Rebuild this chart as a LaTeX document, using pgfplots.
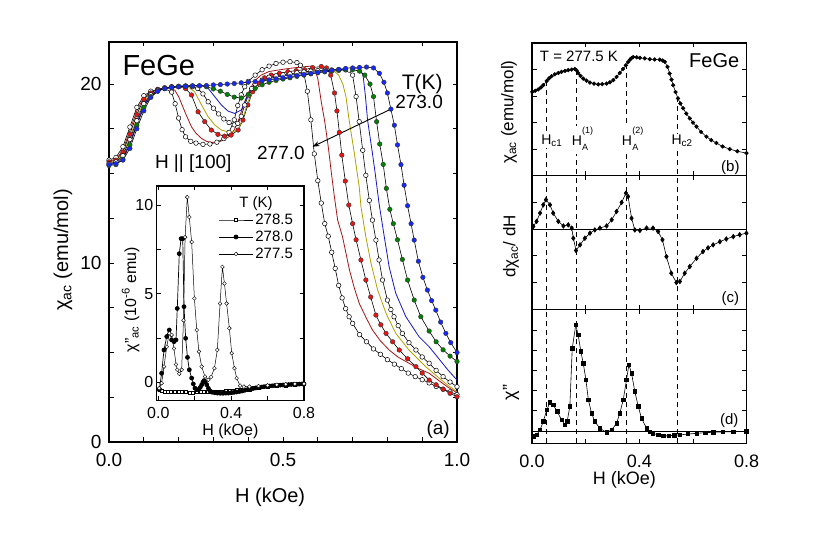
\documentclass[border=0pt]{standalone}
\usepackage{fontspec}
\setmainfont{Liberation Sans}
\usepackage{pgfplots}
\pgfplotsset{compat=1.18}
\usetikzlibrary{arrows.meta}
\newcommand{\fs}[1]{\fontsize{#1}{#1}\selectfont}
\newcommand{\HA}[1]{H\kern0.3pt\raisebox{-5pt}{\fs{9}\begin{tabular}[b]{@{}l@{}}(#1)\\[8pt]A\end{tabular}}}
\definecolor{cred}{RGB}{235,20,20}
\definecolor{cdred}{RGB}{165,20,20}
\definecolor{colive}{RGB}{175,160,0}
\definecolor{cblue}{RGB}{20,20,200}
\definecolor{cgreen}{RGB}{0,130,0}
\definecolor{cbdot}{RGB}{20,40,255}
\tikzset{dl/.style={dash pattern=on 5pt off 4pt, line width=0.8pt}}
\pgfplotsset{
  myaxis/.style={scale only axis, anchor=south west, tick align=inside,
    axis line style={line width=1.1pt}, major tick length=4.5pt, minor tick length=4.5pt,
    every tick/.style={black, line width=0.9pt}},
  opencirc/.style={black, line width=0.6pt, mark=*, mark size=2.3pt, mark options={fill=white, line width=0.5pt}},
  filledcirc/.style={black, line width=0.6pt, mark=*, mark size=2.3pt, mark options={fill=#1, draw=black!80, line width=0.4pt}},
}
\begin{document}
\begin{tikzpicture}
\useasboundingbox (0pt,0pt) rectangle (830pt,540pt);
% ---------------- main panel (a) ----------------
\begin{axis}[myaxis, at={(109pt,98pt)}, width=348pt, height=400pt,
  xmin=0, xmax=1, ymin=0, ymax=22.35,
  xtick={0,0.5,1}, xticklabels={0.0,0.5,1.0}, minor xtick={0.1,0.2,0.3,0.4,0.6,0.7,0.8,0.9}, xtick pos=bottom,
  ytick={0,10,20}, yticklabels={0,10,20}, minor ytick={2.5,5,7.5,12.5,15,17.5}, ytick pos=both, yticklabel pos=left,
  ticklabel style={font=\fs{19}},
  xticklabel style={yshift=-8pt}, yticklabel style={xshift=-4pt},
  xlabel={H (kOe)}, ylabel={χ\textsubscript{ac} (emu/mol)}, label style={font=\fs{20}},
  xlabel style={at={(axis description cs:0.463,-0.1375)}, anchor=center},
  ylabel style={at={(axis description cs:-0.132,0.48)}, anchor=center},
]
% 277.0 open circles
\addplot[opencirc] coordinates {
(0.00,15.75)(0.02,15.9)(0.04,16.5)(0.06,17.6)(0.08,18.7)(0.10,19.35)(0.12,19.6)(0.14,19.7)(0.16,19.75)
(0.18,19.55)(0.19,18.9)(0.20,18.1)(0.21,17.45)(0.22,17.05)(0.235,16.8)(0.25,16.7)(0.27,16.63)(0.29,16.65)
(0.31,16.75)(0.33,16.95)(0.345,17.3)(0.36,18.0)(0.37,18.8)(0.38,19.4)(0.39,19.85)(0.40,20.15)(0.42,20.5)
(0.44,20.8)(0.46,21.0)(0.48,21.15)(0.50,21.22)(0.52,21.25)(0.54,21.2)(0.55,21.05)(0.56,20.6)(0.57,19.6)
(0.58,18.0)(0.59,16.1)(0.60,14.6)(0.61,13.35)(0.62,12.2)(0.63,11.5)(0.64,10.6)(0.65,9.7)(0.66,8.75)
(0.67,8.05)(0.68,7.45)(0.69,7.0)(0.70,6.63)(0.72,6.0)(0.74,5.6)(0.76,5.2)(0.78,4.9)(0.80,4.6)(0.82,4.35)
(0.84,4.1)(0.86,3.85)(0.88,3.65)(0.90,3.48)(0.92,3.3)(0.94,3.1)(0.96,2.95)(0.98,2.8)(1.00,2.65)};
% 276.5 dark red line
\addplot[cdred, line width=0.8pt] coordinates {
(0,15.7)(0.02,15.8)(0.04,16.3)(0.06,17.4)(0.08,18.5)(0.10,19.25)(0.12,19.55)(0.14,19.7)(0.17,19.8)
(0.189,19.66)(0.20,19.3)(0.218,18.45)(0.237,17.61)(0.25,17.25)(0.266,16.96)(0.28,16.8)(0.294,16.74)
(0.31,16.75)(0.323,16.82)(0.34,17.0)(0.351,17.15)(0.36,17.45)(0.371,17.9)(0.38,18.45)(0.39,19.01)
(0.40,19.5)(0.409,19.85)(0.42,20.2)(0.437,20.5)(0.46,20.7)(0.485,20.78)(0.52,20.88)(0.562,20.97)
(0.58,21.0)(0.59,20.9)(0.60,20.3)(0.61,19.0)(0.62,17.9)(0.63,16.5)(0.638,15.2)(0.647,13.8)(0.657,12.4)
(0.671,11.47)(0.691,9.61)(0.705,8.6)(0.719,7.75)(0.74,6.9)(0.757,6.26)(0.78,5.65)(0.805,5.14)(0.83,4.75)
(0.862,4.4)(0.89,4.1)(0.92,3.84)(0.95,3.4)(0.975,3.05)(1.0,2.75)};
% 276.0 red dots
\addplot[filledcirc=cred] coordinates {
(0.00,15.65)(0.02,15.75)(0.04,16.2)(0.06,17.2)(0.08,18.3)(0.10,19.15)(0.12,19.5)(0.14,19.7)(0.16,19.8)
(0.18,19.85)(0.20,19.85)(0.22,19.75)(0.237,19.39)(0.256,18.45)(0.275,17.9)(0.294,17.43)(0.313,17.19)
(0.332,17.09)(0.351,17.15)(0.371,17.43)(0.385,17.99)(0.399,18.83)(0.413,19.57)(0.428,20.04)(0.447,20.35)
(0.466,20.5)(0.49,20.6)(0.514,20.69)(0.538,20.75)(0.562,20.8)(0.585,20.92)(0.61,20.98)(0.625,20.9)
(0.637,20.5)(0.648,19.5)(0.655,18.5)(0.662,17.3)(0.669,16.03)(0.679,14.58)(0.689,13.24)(0.70,12.2)
(0.71,11.3)(0.724,10.17)(0.738,9.05)(0.752,8.1)(0.767,7.09)(0.781,6.55)(0.796,6.07)(0.815,5.6)(0.834,5.14)
(0.858,4.65)(0.882,4.21)(0.90,3.85)(0.92,3.46)(0.94,3.2)(0.96,2.95)(0.98,2.72)(1.00,2.53)};
% 275.5 olive line
\addplot[colive, line width=0.8pt] coordinates {
(0,15.6)(0.02,15.7)(0.04,16.1)(0.06,17.0)(0.08,18.1)(0.10,19.0)(0.12,19.45)(0.14,19.65)(0.17,19.8)
(0.20,19.85)(0.23,19.8)(0.246,19.57)(0.266,18.83)(0.285,18.17)(0.304,17.71)(0.323,17.43)(0.347,17.3)
(0.371,17.43)(0.385,18.08)(0.399,19.01)(0.418,19.76)(0.44,20.15)(0.466,20.32)(0.51,20.5)(0.562,20.69)
(0.60,20.75)(0.643,20.78)(0.66,20.5)(0.672,20.0)(0.681,19.29)(0.69,17.99)(0.705,16.13)(0.719,14.26)
(0.724,13.15)(0.738,11.47)(0.753,9.98)(0.772,8.49)(0.796,7.19)(0.824,6.07)(0.862,5.14)(0.91,4.21)
(0.95,3.55)(0.975,3.15)(1.0,2.81)};
% 275.0 open circles
\addplot[opencirc] coordinates {
(0.00,15.55)(0.02,15.65)(0.04,16.0)(0.06,16.9)(0.08,17.95)(0.10,18.9)(0.12,19.4)(0.14,19.65)(0.16,19.75)
(0.18,19.85)(0.20,19.88)(0.22,19.9)(0.24,19.85)(0.255,19.75)(0.27,19.45)(0.285,19.01)(0.30,18.65)
(0.315,18.33)(0.33,18.05)(0.345,17.85)(0.36,17.72)(0.37,17.8)(0.38,18.2)(0.39,18.83)(0.40,19.35)
(0.41,19.75)(0.42,20.0)(0.44,20.22)(0.46,20.38)(0.48,20.46)(0.50,20.52)(0.52,20.57)(0.54,20.63)
(0.56,20.68)(0.58,20.72)(0.60,20.75)(0.62,20.77)(0.64,20.79)(0.66,20.8)(0.68,20.8)(0.69,20.78)
(0.70,20.5)(0.71,19.3)(0.719,17.9)(0.729,16.3)(0.738,14.9)(0.748,13.5)(0.757,12.4)(0.767,11.28)
(0.776,10.17)(0.786,9.05)(0.80,7.93)(0.81,7.4)(0.819,7.0)(0.831,6.5)(0.843,6.07)(0.862,5.55)(0.882,5.14)
(0.90,4.75)(0.92,4.4)(0.94,4.0)(0.96,3.65)(0.98,3.35)(1.0,3.09)};
% 274.5 blue line
\addplot[cblue, line width=0.8pt] coordinates {
(0,15.5)(0.02,15.6)(0.04,15.9)(0.06,16.7)(0.08,17.8)(0.10,18.8)(0.12,19.35)(0.14,19.65)(0.17,19.8)
(0.20,19.88)(0.24,19.92)(0.27,19.9)(0.285,19.76)(0.304,19.29)(0.323,18.83)(0.342,18.49)(0.361,18.36)
(0.38,18.55)(0.395,19.2)(0.409,19.76)(0.437,20.22)(0.485,20.41)(0.562,20.6)(0.62,20.75)(0.68,20.85)
(0.72,20.85)(0.73,20.5)(0.737,19.3)(0.743,17.99)(0.757,16.13)(0.765,15.0)(0.776,13.33)(0.791,11.47)
(0.805,9.79)(0.824,8.31)(0.853,7.0)(0.891,5.88)(0.92,5.32)(0.95,4.6)(0.975,4.0)(1.0,3.46)};
% 274.0 green dots
\addplot[filledcirc=cgreen] coordinates {
(0.00,15.45)(0.02,15.5)(0.04,15.8)(0.06,16.6)(0.08,17.7)(0.10,18.7)(0.12,19.3)(0.14,19.6)(0.16,19.75)
(0.18,19.8)(0.20,19.85)(0.22,19.88)(0.24,19.9)(0.26,19.9)(0.28,19.85)(0.30,19.73)(0.32,19.6)(0.34,19.42)
(0.36,19.27)(0.38,19.22)(0.40,19.42)(0.42,19.75)(0.44,19.96)(0.46,20.1)(0.48,20.2)(0.50,20.28)(0.52,20.35)
(0.54,20.43)(0.56,20.5)(0.58,20.57)(0.60,20.63)(0.62,20.68)(0.64,20.72)(0.66,20.76)(0.68,20.79)(0.70,20.8)
(0.72,20.72)(0.735,20.5)(0.75,20.0)(0.76,19.3)(0.769,17.9)(0.778,16.65)(0.788,15.51)(0.797,14.17)
(0.807,13.0)(0.817,12.2)(0.829,11.3)(0.843,10.2)(0.858,9.05)(0.877,7.93)(0.896,7.0)(0.92,6.2)(0.94,5.6)
(0.96,5.15)(0.98,4.8)(1.0,4.5)};
% 273.0 blue dots
\addplot[filledcirc=cbdot] coordinates {
(0.00,15.5)(0.02,15.55)(0.04,15.75)(0.06,16.4)(0.08,17.5)(0.10,18.5)(0.12,19.25)(0.14,19.6)(0.16,19.75)
(0.18,19.8)(0.20,19.85)(0.22,19.87)(0.24,19.9)(0.26,19.9)(0.28,19.92)(0.30,19.95)(0.32,19.97)(0.34,20.0)
(0.36,20.03)(0.38,20.07)(0.40,20.1)(0.42,20.14)(0.44,20.18)(0.46,20.23)(0.48,20.29)(0.50,20.35)(0.52,20.41)
(0.54,20.47)(0.56,20.53)(0.58,20.59)(0.60,20.65)(0.62,20.71)(0.64,20.77)(0.66,20.82)(0.68,20.87)(0.70,20.9)
(0.72,20.93)(0.74,20.95)(0.76,20.9)(0.777,20.6)(0.79,20.1)(0.80,19.5)(0.81,18.6)(0.82,17.7)(0.829,16.6)
(0.839,15.5)(0.848,14.35)(0.858,13.2)(0.868,12.2)(0.877,11.28)(0.889,10.1)(0.902,9.2)(0.915,8.49)
(0.927,7.9)(0.939,7.37)(0.953,6.7)(0.968,6.07)(0.982,5.55)(1.0,5.0)};
\node[font=\fs{29}] at (axis cs:0.143,21.06) {FeGe};
\node[font=\fs{19}] at (axis cs:0.242,15.56) {H || [100]};
\node[font=\fs{21}] at (axis cs:0.9,20.0) {T(K)};
\node[font=\fs{19}] at (axis cs:0.891,19.02) {273.0};
\node[font=\fs{19}] at (axis cs:0.494,16.13) {277.0};
\draw[-{Stealth[length=7pt,width=5pt]}, line width=0.9pt] (axis cs:0.81,18.6) -- (axis cs:0.585,16.5);
\node[font=\fs{19}] at (axis cs:0.946,0.7) {(a)};
\end{axis}
% top ticks of main panel
\begin{axis}[myaxis, at={(109pt,98pt)}, width=348pt, height=400pt,
  xmin=0, xmax=1, ymin=0, ymax=22.35, axis line style={draw=none},
  xtick={0.1,0.3,0.5,0.7,0.9}, xticklabels={}, xtick pos=top, ytick=\empty]
\end{axis}
% ---------------- inset ----------------
\begin{axis}[myaxis, at={(156.7pt,139.3pt)}, width=147.3pt, height=214.7pt,
  axis background/.style={fill=white},
  xmin=-0.009, xmax=0.8, ymin=-1.05, ymax=11.1,
  xtick={0,0.4,0.8}, xticklabels={0.0,0.4,0.8}, minor xtick={0.2,0.6},
  ytick={0,5,10}, yticklabels={0,5,10}, minor ytick={2.5,7.5},
  ticklabel style={font=\fs{16}}, xticklabel style={yshift=-3pt},
  xlabel={H (kOe)}, ylabel={χ''\textsubscript{ac} (10\textsuperscript{-6} emu)}, label style={font=\fs{16}},
  xlabel style={at={(axis description cs:0.5,-0.144)}, anchor=center},
  ylabel style={at={(axis description cs:-0.177,0.47)}, anchor=center},
  legend style={draw=none, fill=none, at={(0.96,0.97)}, anchor=north east, font=\fs{15}, row sep=1pt},
  legend cell align=left,
  legend image code/.code={\draw[#1, mark repeat=2, mark phase=2] plot coordinates {(0pt,0pt) (17pt,0pt) (34pt,0pt)};},
]
\addlegendimage{empty legend}
\addlegendentry{\hspace{-16pt}T (K)}
\addplot[black, line width=0.5pt, mark=square*, mark size=1.5pt, mark options={fill=white, line width=0.4pt}] coordinates {
(0.005,-0.45)(0.02,-0.5)(0.035,-0.52)(0.05,-0.53)(0.07,-0.54)(0.09,-0.55)(0.11,-0.55)(0.13,-0.56)(0.15,-0.56)
(0.17,-0.57)(0.19,-0.57)(0.21,-0.56)(0.23,-0.56)(0.25,-0.56)(0.27,-0.55)(0.29,-0.55)(0.31,-0.54)(0.33,-0.53)
(0.35,-0.52)(0.37,-0.51)(0.39,-0.49)(0.41,-0.47)(0.43,-0.45)(0.45,-0.43)(0.50,-0.4)(0.55,-0.33)(0.60,-0.27)
(0.65,-0.22)(0.70,-0.18)(0.75,-0.14)(0.80,-0.1)};
\addlegendentry{278.5}
\addplot[black, line width=0.7pt, mark=*, mark size=2pt] coordinates {
(0.005,-0.43)(0.018,0.5)(0.031,1.82)(0.046,2.58)(0.06,2.95)(0.073,2.39)(0.086,2.29)(0.097,2.39)(0.104,4.17)
(0.115,7.27)(0.125,8.12)(0.134,8.12)(0.141,4.27)(0.15,2.48)(0.16,1.4)(0.17,0.7)(0.183,0.23)(0.192,-0.1)
(0.201,-0.34)(0.21,-0.42)(0.22,-0.43)(0.23,-0.3)(0.238,-0.15)(0.245,0.0)(0.251,0.09)(0.258,0.0)(0.266,-0.15)
(0.275,-0.35)(0.284,-0.5)(0.295,-0.57)(0.31,-0.6)(0.325,-0.62)(0.34,-0.63)(0.355,-0.63)(0.37,-0.62)
(0.385,-0.62)(0.40,-0.6)(0.415,-0.58)(0.43,-0.56)(0.445,-0.53)(0.46,-0.5)(0.475,-0.46)(0.49,-0.42)
(0.505,-0.39)(0.52,-0.36)(0.535,-0.33)(0.55,-0.3)(0.565,-0.28)(0.58,-0.26)(0.595,-0.24)(0.61,-0.22)
(0.625,-0.21)(0.64,-0.19)(0.655,-0.18)(0.67,-0.17)(0.685,-0.16)(0.70,-0.15)(0.715,-0.14)(0.73,-0.13)
(0.745,-0.12)(0.76,-0.12)(0.775,-0.11)(0.79,-0.1)(0.80,-0.1)};
\addlegendentry{278.0}
\addplot[black, line width=0.5pt, mark=*, mark size=1.9pt, mark options={fill=white, line width=0.4pt}] coordinates {
(0.005,-0.34)(0.018,-0.06)(0.031,0.88)(0.046,2.0)(0.06,2.76)(0.073,2.67)(0.086,1.9)(0.097,1.0)(0.104,0.7)
(0.115,0.47)(0.128,0.7)(0.138,3.5)(0.147,8.2)(0.159,10.47)(0.17,9.34)(0.183,7.93)(0.198,4.74)(0.211,2.95)
(0.223,1.73)(0.238,0.88)(0.256,0.32)(0.275,0.13)(0.29,0.3)(0.308,0.79)(0.324,1.82)(0.339,4.45)(0.352,6.52)
(0.363,5.58)(0.375,4.45)(0.39,3.05)(0.403,1.64)(0.418,0.79)(0.43,0.23)(0.449,-0.2)(0.47,-0.25)(0.50,-0.25)
(0.55,-0.22)(0.60,-0.18)(0.65,-0.15)(0.70,-0.12)(0.75,-0.1)(0.80,-0.09)};
\addlegendentry{277.5}
\end{axis}
% ---------------- panel (b) ----------------
\begin{axis}[myaxis, at={(532pt,364.3pt)}, width=214.7pt, height=132.7pt,
  xmin=0, xmax=0.8, ymin=0, ymax=5,
  xtick={0,0.4,0.8}, xticklabels={}, minor xtick={0.2,0.6},
  ytick={1,2,3,4}, yticklabels={},
  ylabel={χ\textsubscript{ac} (emu/mol)}, label style={font=\fs{17}},
  ylabel style={at={(axis description cs:-0.107,0.48)}, anchor=center},
]
\addplot[black, line width=0.6pt, mark=*, mark size=1.8pt] coordinates {
(0.001,3.16)(0.012,3.2)(0.023,3.25)(0.033,3.32)(0.042,3.41)(0.055,3.57)(0.064,3.67)(0.073,3.75)(0.085,3.82)
(0.098,3.87)(0.11,3.91)(0.123,3.95)(0.135,3.98)(0.148,4.0)(0.16,4.02)(0.166,3.97)(0.172,3.87)(0.181,3.76)
(0.191,3.66)(0.203,3.58)(0.216,3.51)(0.231,3.47)(0.247,3.44)(0.262,3.45)(0.278,3.47)(0.29,3.52)(0.303,3.6)
(0.315,3.72)(0.327,3.87)(0.339,4.02)(0.35,4.16)(0.358,4.28)(0.365,4.37)(0.371,4.43)(0.377,4.47)(0.39,4.46)
(0.402,4.44)(0.42,4.42)(0.439,4.39)(0.457,4.38)(0.476,4.37)(0.487,4.34)(0.495,4.29)(0.505,4.1)(0.513,3.85)
(0.52,3.62)(0.526,3.41)(0.535,3.15)(0.544,2.91)(0.553,2.72)(0.563,2.54)(0.575,2.34)(0.588,2.16)(0.6,2.0)
(0.613,1.85)(0.63,1.65)(0.65,1.47)(0.668,1.34)(0.687,1.23)(0.71,1.1)(0.737,1.0)(0.765,0.92)(0.799,0.85)};
\draw[dl] (axis cs:0.0545,3.56) -- (axis cs:0.0545,0);
\draw[dl] (axis cs:0.166,3.97) -- (axis cs:0.166,0);
\draw[dl] (axis cs:0.353,4.2) -- (axis cs:0.353,0);
\draw[dl] (axis cs:0.542,2.95) -- (axis cs:0.542,0);
\node[font=\fs{14}, fill=white, inner sep=1pt] at (axis cs:0.0735,1.31) {H\textsubscript{c1}};
\node[font=\fs{14}, fill=white, inner sep=1pt] at (axis cs:0.188,1.35) {\HA{1}};
\node[font=\fs{14}, fill=white, inner sep=1pt] at (axis cs:0.375,1.35) {\HA{2}};
\node[font=\fs{14}, fill=white, inner sep=1pt] at (axis cs:0.559,1.31) {H\textsubscript{c2}};
\node[font=\fs{15}] at (axis cs:0.175,4.5) {T = 277.5 K};
\node[font=\fs{20}] at (axis cs:0.679,4.35) {FeGe};
\node[font=\fs{15}] at (axis cs:0.739,0.3) {(b)};
\end{axis}
% ---------------- panel (c) ----------------
\begin{axis}[myaxis, at={(532pt,230.7pt)}, width=214.7pt, height=133.6pt,
  xmin=0, xmax=0.8, ymin=-3, ymax=2,
  xtick={0,0.4,0.8}, xticklabels={}, minor xtick={0.2,0.6},
  ytick={-2,-1,0,1}, yticklabels={},
  ylabel={dχ\textsubscript{ac}/ dH}, label style={font=\fs{17}},
  ylabel style={at={(axis description cs:-0.098,0.47)}, anchor=center},
]
\draw[line width=0.7pt] (axis cs:0,0) -- (axis cs:0.8,0);
\addplot[black, line width=0.6pt, mark=diamond*, mark size=2.3pt] coordinates {
(0.005,0.1)(0.017,0.29)(0.03,0.6)(0.042,0.91)(0.052,1.1)(0.067,0.91)(0.079,0.6)(0.098,0.29)(0.117,0.12)
(0.135,0.16)(0.148,0.04)(0.154,-0.34)(0.164,-0.8)(0.179,-0.59)(0.197,-0.34)(0.216,-0.15)(0.234,-0.03)
(0.253,0.04)(0.278,0.12)(0.297,0.35)(0.315,0.66)(0.334,1.0)(0.35,1.35)(0.358,1.22)(0.371,0.41)(0.383,-0.03)
(0.402,-0.05)(0.427,0.04)(0.451,0.04)(0.47,-0.09)(0.486,-0.4)(0.501,-1.03)(0.519,-1.65)(0.538,-2.0)
(0.551,-1.96)(0.569,-1.65)(0.588,-1.4)(0.613,-1.09)(0.637,-0.84)(0.656,-0.7)(0.675,-0.59)(0.7,-0.47)
(0.724,-0.37)(0.75,-0.28)(0.774,-0.21)(0.799,-0.15)};
\draw[dl] (axis cs:0.0545,-3) -- (axis cs:0.0545,2);
\draw[dl] (axis cs:0.166,-3) -- (axis cs:0.166,2);
\draw[dl] (axis cs:0.353,-3) -- (axis cs:0.353,2);
\draw[dl] (axis cs:0.542,-3) -- (axis cs:0.542,2);
\node[font=\fs{15}] at (axis cs:0.739,-2.6) {(c)};
\end{axis}
% ---------------- panel (d) ----------------
\begin{axis}[myaxis, at={(532pt,96.7pt)}, width=214.7pt, height=134pt,
  xmin=0, xmax=0.8, ymin=-0.62, ymax=6.08,
  xtick={0,0.4,0.8}, xticklabels={0.0,0.4,0.8}, minor xtick={0.2,0.6},
  ytick={1,2,3,4,5}, yticklabels={},
  ticklabel style={font=\fs{18}}, xticklabel style={yshift=-8pt},
  xlabel={H (kOe)}, ylabel={χ''}, label style={font=\fs{18}},
  xlabel style={at={(axis description cs:0.43,-0.27)}, anchor=center},
  ylabel style={at={(axis description cs:-0.098,0.38)}, anchor=center},
]
\draw[line width=0.7pt] (axis cs:0,0) -- (axis cs:0.8,0);
\addplot[black, line width=0.6pt, mark=square*, mark size=1.7pt] coordinates {
(0.005,-0.28)(0.017,-0.2)(0.03,0.05)(0.042,0.47)(0.055,1.05)(0.067,1.42)(0.079,1.3)(0.094,0.97)(0.11,0.55)
(0.123,0.3)(0.131,0.47)(0.141,1.22)(0.15,4.13)(0.163,5.3)(0.172,4.8)(0.182,3.97)(0.191,3.38)(0.201,2.55)
(0.21,1.55)(0.222,0.88)(0.234,0.47)(0.253,0.13)(0.278,-0.08)(0.297,0.05)(0.315,0.38)(0.327,0.88)(0.34,1.55)
(0.352,2.55)(0.361,3.3)(0.371,2.88)(0.383,1.97)(0.396,1.22)(0.408,0.63)(0.427,0.13)(0.44,-0.05)(0.451,-0.12)
(0.47,-0.2)(0.489,-0.25)(0.51,-0.24)(0.53,-0.22)(0.551,-0.2)(0.58,-0.16)(0.613,-0.12)(0.645,-0.09)
(0.675,-0.07)(0.71,-0.05)(0.75,-0.04)(0.799,-0.03)};
\draw[dl] (axis cs:0.0545,-0.62) -- (axis cs:0.0545,6.08);
\draw[dl] (axis cs:0.166,-0.62) -- (axis cs:0.166,6.08);
\draw[dl] (axis cs:0.353,-0.62) -- (axis cs:0.353,6.08);
\draw[dl] (axis cs:0.542,-0.62) -- (axis cs:0.542,6.08);
\node[font=\fs{15}] at (axis cs:0.735,0.52) {(d)};
\end{axis}
\end{tikzpicture}
\end{document}
